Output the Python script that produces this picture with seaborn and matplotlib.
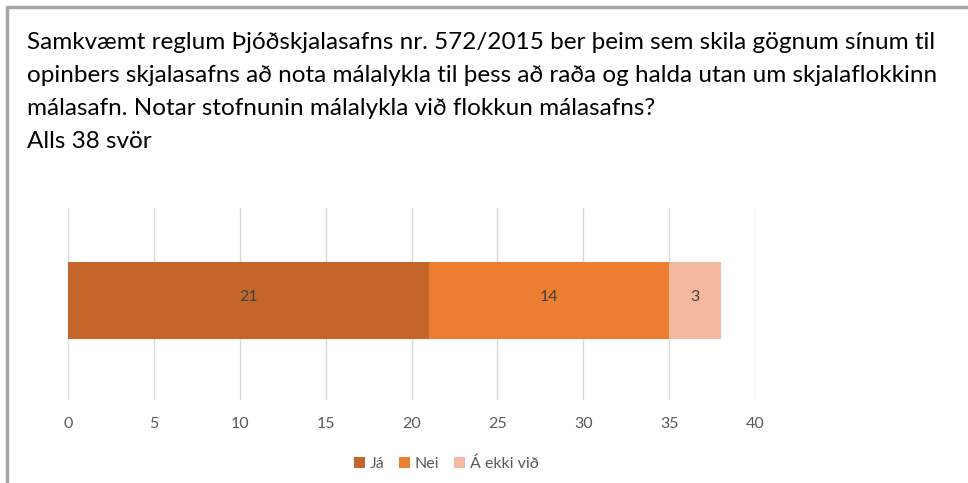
import numpy as np
import pandas as pd
import seaborn as sns
import matplotlib.pyplot as plt
from matplotlib.patches import Patch
from matplotlib.lines import Line2D

# Data
categories = ["Já", "Nei", "Á ekki við"]
values = [21, 14, 3]
colors = ["#C4662A", "#ED7D31", "#F4B9A0"]
ticks = [0, 5, 10, 15, 20, 25, 30, 35, 40]
title = ("Samkvæmt reglum Þjóðskjalasafns nr. 572/2015 ber þeim sem skila gögnum sínum til\n"
         "opinbers skjalasafns að nota málalykla til þess að raða og halda utan um skjalaflokkinn\n"
         "málasafn. Notar stofnunin málalykla við flokkun málasafns?\n"
         "Alls 38 svör")

sns.set_style("white")
plt.rcParams['font.family'] = ['Lato', 'DejaVu Sans']

fig = plt.figure(figsize=(9.68, 4.83), dpi=100)
ax = fig.add_axes([68 / 968, 1 - 400 / 483, (755 - 68) / 968, 192 / 483])

cum = np.cumsum(values)
# layered stacking: draw largest cumulative first
for i in range(len(values) - 1, -1, -1):
    df = pd.DataFrame({"q": ["q"], "v": [cum[i]]})
    sns.barplot(data=df, x="v", y="q", orient="h", color=colors[i],
                width=0.4, saturation=1, linewidth=0, ax=ax, zorder=3)

starts = cum - np.array(values)
for s, v in zip(starts, values):
    ax.text(s + v / 2, -0.015, str(v), ha="center", va="center",
            fontsize=11.5, color="#404040", zorder=4)

ax.set_xlim(0, 40)
ax.set_ylim(0.52, -0.48)
ax.set_xticks(ticks)
ax.set_xticklabels([str(t) for t in ticks], fontsize=11.5, color="#595959")
ax.tick_params(axis="x", length=0, pad=12)
ax.set_yticks([])
ax.set_xlabel("")
ax.set_ylabel("")
ax.grid(axis="x", color="#D9D9D9", linewidth=1, zorder=0)
for sp in ax.spines.values():
    sp.set_visible(False)

handles = [Patch(facecolor=c, edgecolor="none") for c in colors]
fig.legend(handles, categories, loc="center", bbox_to_anchor=(446 / 968, 1 - 464 / 483),
           ncol=3, frameon=False, fontsize=11.5, handlelength=0.7, handleheight=0.7,
           handletextpad=0.3, columnspacing=0.9, labelcolor="#595959")

fig.text(27 / 968, 1 - 32 / 483, title, ha="left", va="top", fontsize=17.5,
         color="#000000", linespacing=1.7)

# frame lines (top and left)
fig.add_artist(Line2D([7 / 968, 1], [1 - 7 / 483, 1 - 7 / 483], color="#A6A6A6", linewidth=2.5))
fig.add_artist(Line2D([7 / 968, 7 / 968], [0, 1 - 7 / 483], color="#A6A6A6", linewidth=2.5))

fig.savefig("out.png", dpi=100, facecolor="white")
